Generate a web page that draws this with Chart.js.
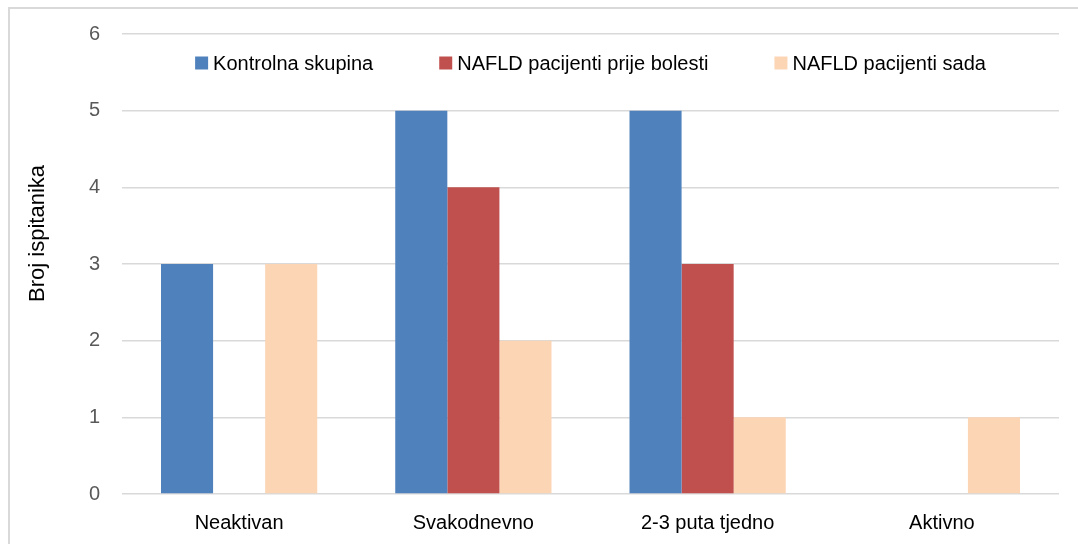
<!DOCTYPE html>
<html>
<head>
<meta charset="utf-8">
<script src="https://cdn.jsdelivr.net/npm/chart.js@4/dist/chart.umd.min.js"></script>
<style>
  html, body { margin: 0; padding: 0; background: #fff; }
  #wrap { position: relative; width: 1078px; height: 544px; overflow: hidden; }
  #frame { position: absolute; left: 8px; top: 7px; width: 1200px; height: 700px;
           border-left: 2px solid #d9d9d9; border-top: 2px solid #d9d9d9; }
  canvas { position: absolute; left: 0; top: 0; }
</style>
</head>
<body>
<div id="wrap">
  <div id="frame"></div>
  <canvas id="myChart" width="1078" height="544"></canvas>
</div>
<script>
const categories = ['Neaktivan', 'Svakodnevno', '2-3 puta tjedno', 'Aktivno'];
const kontrolna = [3, 5, 5, 0];
const prijeBolesti = [0, 4, 3, 0];
const sada = [3, 2, 1, 1];
const seriesNames = ['Kontrolna skupina', 'NAFLD pacijenti prije bolesti', 'NAFLD pacijenti sada'];
const seriesColors = ['#4f81bd', '#c0504d', '#fcd5b5'];
const yTitle = 'Broj ispitanika';

const font = 'Liberation Sans, Arial, sans-serif';

// legend sits inside the plot area, like the Excel original
const insideLegend = {
  id: 'insideLegend',
  afterDraw(chart) {
    const c = chart.ctx;
    const area = chart.chartArea;
    const box = 13;
    const gap = 5;
    const spacing = 66;
    c.save();
    c.font = '20px ' + font;
    c.textBaseline = 'middle';
    const widths = chart.data.datasets.map((ds) => box + gap + c.measureText(ds.label).width);
    const total = widths.reduce((a, b) => a + b, 0) + spacing * (widths.length - 1);
    let x = (area.left + area.right) / 2 - total / 2;
    const y = area.top + 29;
    chart.data.datasets.forEach((ds, i) => {
      c.fillStyle = ds.backgroundColor;
      c.fillRect(x, y - box / 2, box, box);
      c.fillStyle = '#000';
      c.fillText(ds.label, x + box + gap, y + 1);
      x += widths[i] + spacing;
    });
    c.restore();
  },
};

const ctx = document.getElementById('myChart');
new Chart(ctx, {       // eslint-disable-line
  type: 'bar',
  data: {
    labels: categories,
    datasets: [
      { label: seriesNames[0], data: kontrolna, backgroundColor: seriesColors[0] },
      { label: seriesNames[1], data: prijeBolesti, backgroundColor: seriesColors[1] },
      { label: seriesNames[2], data: sada, backgroundColor: seriesColors[2] },
    ],
  },
  options: {
    responsive: false,
    animation: false,
    layout: { padding: { left: 10, right: 19, top: 32, bottom: 0 } },
    datasets: {
      bar: { categoryPercentage: 0.667, barPercentage: 1, borderWidth: 0 },
    },
    plugins: {
      tooltip: { enabled: false },
      legend: { display: false },
    },
    scales: {
      x: {
        grid: { display: false },
        border: { display: false },
        ticks: { color: '#000', padding: 9, font: { family: font, size: 20 } },
        afterFit(scale) {
          scale.height = 50;
        },
      },
      y: {
        min: 0,
        max: 6,
        ticks: { stepSize: 1, color: '#595959', padding: 22, font: { family: font, size: 20 } },
        grid: { color: '#d9d9d9', lineWidth: 1.5, drawTicks: false },
        border: { display: false },
        title: {
          display: true,
          // leading spaces nudge the rotated title upward, as in the original
          text: '          ' + yTitle,
          color: '#000',
          font: { family: font, size: 22 },
          padding: { top: 15, bottom: 0 },
        },
        afterFit(scale) {
          scale.width = 112;
        },
      },
    },
  },
  plugins: [insideLegend],
});
</script>
</body>
</html>
